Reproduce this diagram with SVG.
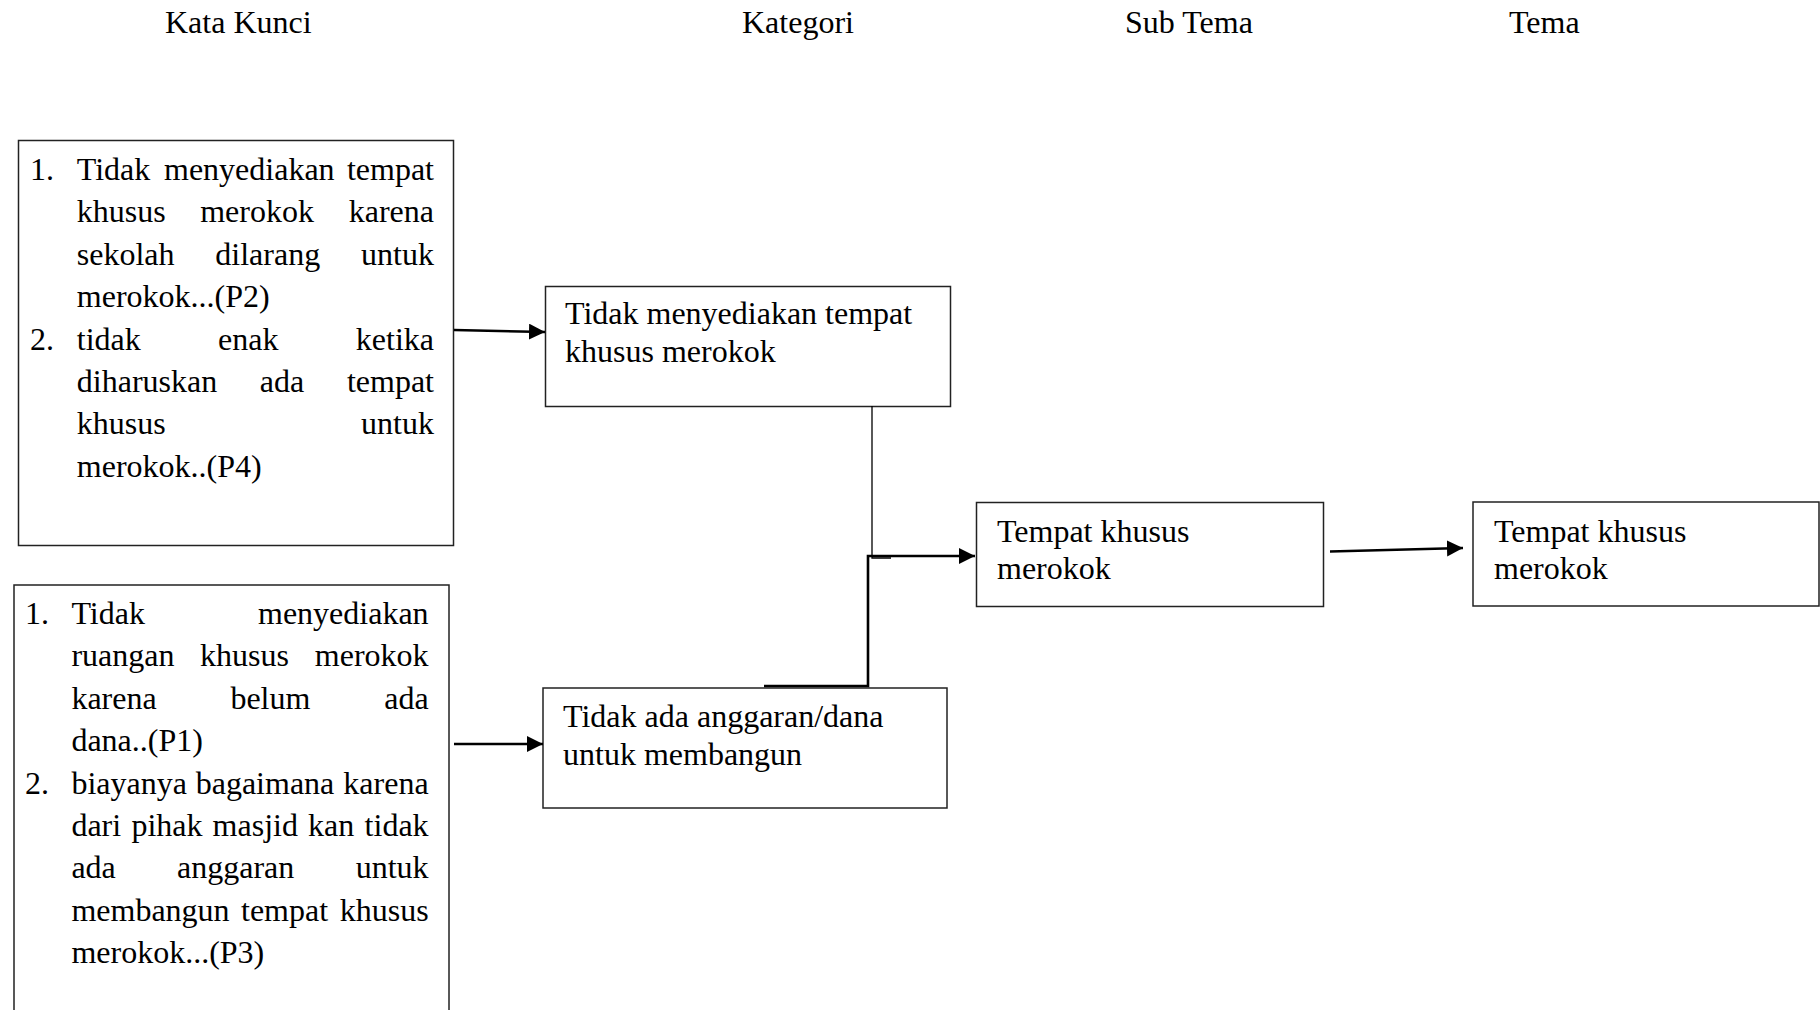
<svg xmlns="http://www.w3.org/2000/svg" width="1820" height="1010" viewBox="0 0 1820 1010">
<defs>
<style>
text{font-family:"Liberation Serif","Times New Roman",serif;font-size:32px;fill:#000}
.box{fill:#fff;stroke:#222;stroke-width:1.5}
.e{text-anchor:end}
.thick{fill:none;stroke:#000;stroke-width:2.6}
.thin{fill:none;stroke:#000;stroke-width:1.3}
</style>
<marker id="ah" markerUnits="userSpaceOnUse" markerWidth="18" markerHeight="18" refX="16" refY="8" orient="auto">
<path d="M0,0 L16,8 L0,16 z" fill="#000"/>
</marker>
</defs>
<rect width="1820" height="1010" fill="#fff"/>

<g id="headers">
<text x="165" y="33">Kata Kunci</text>
<text x="742" y="33">Kategori</text>
<text x="1125" y="33">Sub Tema</text>
<text x="1509" y="33">Tema</text>
</g>

<g id="kata-kunci-1">
<rect class="box" x="18.5" y="140.5" width="435" height="405"/>
<text y="180"><tspan x="30">1.</tspan><tspan x="76.8">Tidak</tspan><tspan x="164">menyediakan</tspan><tspan x="434" class="e">tempat</tspan></text>
<text y="222.4"><tspan x="76.8">khusus</tspan><tspan x="200.2">merokok</tspan><tspan x="434" class="e">karena</tspan></text>
<text y="264.8"><tspan x="76.8">sekolah</tspan><tspan x="215.3">dilarang</tspan><tspan x="434" class="e">untuk</tspan></text>
<text y="307.2"><tspan x="76.8">merokok...(P2)</tspan></text>
<text y="349.6"><tspan x="30">2.</tspan><tspan x="76.8">tidak</tspan><tspan x="218">enak</tspan><tspan x="434" class="e">ketika</tspan></text>
<text y="392"><tspan x="76.8">diharuskan</tspan><tspan x="259.8">ada</tspan><tspan x="434" class="e">tempat</tspan></text>
<text y="434.4"><tspan x="76.8">khusus</tspan><tspan x="434" class="e">untuk</tspan></text>
<text y="476.8"><tspan x="76.8">merokok..(P4)</tspan></text>
</g>

<g id="kata-kunci-2">
<rect class="box" x="14" y="585" width="435" height="450"/>
<text y="624"><tspan x="25">1.</tspan><tspan x="71.4">Tidak</tspan><tspan x="428.6" class="e">menyediakan</tspan></text>
<text y="666.4"><tspan x="71.4">ruangan</tspan><tspan x="200.1">khusus</tspan><tspan x="428.6" class="e">merokok</tspan></text>
<text y="708.8"><tspan x="71.4">karena</tspan><tspan x="230.4">belum</tspan><tspan x="428.6" class="e">ada</tspan></text>
<text y="751.2"><tspan x="71.4">dana..(P1)</tspan></text>
<text y="793.6"><tspan x="25">2.</tspan><tspan x="71.4">biayanya</tspan><tspan x="195.7">bagaimana</tspan><tspan x="428.6" class="e">karena</tspan></text>
<text y="836"><tspan x="71.4">dari</tspan><tspan x="131.4">pihak</tspan><tspan x="212.6">masjid</tspan><tspan x="308">kan</tspan><tspan x="428.6" class="e">tidak</tspan></text>
<text y="878.4"><tspan x="71.4">ada</tspan><tspan x="177">anggaran</tspan><tspan x="428.6" class="e">untuk</tspan></text>
<text y="920.8"><tspan x="71.4">membangun</tspan><tspan x="241">tempat</tspan><tspan x="428.6" class="e">khusus</tspan></text>
<text y="963.2"><tspan x="71.4">merokok...(P3)</tspan></text>
</g>

<g id="kategori-1">
<rect class="box" x="545.5" y="286.5" width="405" height="120"/>
<text x="565" y="324">Tidak menyediakan tempat</text>
<text x="565" y="362">khusus merokok</text>
</g>

<g id="kategori-2">
<rect class="box" x="543" y="688" width="404" height="120"/>
<text x="563" y="727">Tidak ada anggaran/dana</text>
<text x="563" y="765">untuk membangun</text>
</g>

<g id="sub-tema">
<rect class="box" x="976.5" y="502.5" width="347" height="104"/>
<text x="997" y="542">Tempat khusus</text>
<text x="997" y="579">merokok</text>
</g>

<g id="tema">
<rect class="box" x="1473" y="502" width="346" height="104"/>
<text x="1494" y="542">Tempat khusus</text>
<text x="1494" y="579">merokok</text>
</g>

<g id="connectors">
<path class="thick" d="M454,330 L545,332" marker-end="url(#ah)"/>
<path class="thick" d="M454,744 L543,744" marker-end="url(#ah)"/>
<path class="thin" d="M872,406 V558 H891"/>
<path class="thick" d="M764,686 H868 V556 H975" marker-end="url(#ah)"/>
<path class="thick" d="M1330,551.5 L1463,548" marker-end="url(#ah)"/>
</g>
</svg>
